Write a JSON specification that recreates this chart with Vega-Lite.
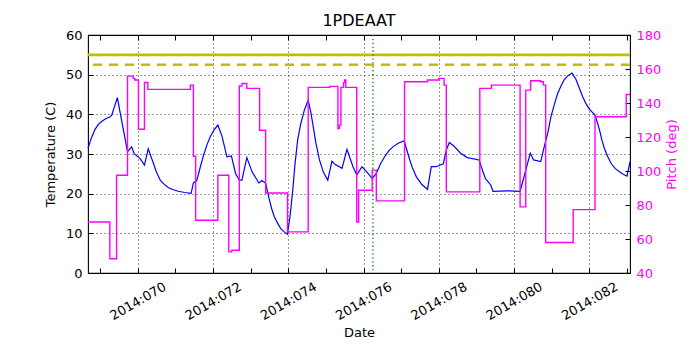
{
  "$schema": "https://vega.github.io/schema/vega-lite/v6.json",
  "width": 542,
  "height": 238,
  "autosize": "none",
  "padding": {"left": 88, "top": 35, "right": 70, "bottom": 77},
  "background": "white",
  "title": {"text": "1PDEAAT", "fontSize": 16, "font": "DejaVu Sans", "fontWeight": "normal", "offset": 0, "color": "black"},
  "config": {
    "font": "DejaVu Sans",
    "view": {"stroke": "black", "strokeWidth": 1.1},
    "axis": {
      "labelFont": "DejaVu Sans", "titleFont": "DejaVu Sans",
      "labelFontSize": 13, "titleFontSize": 13, "titleFontWeight": "normal",
      "labelColor": "black", "titleColor": "black", "labelOverlap": false, "labelFlush": false,
      "domain": false, "tickColor": "black", "tickSize": -5, "tickWidth": 1,
      "gridColor": "black", "gridDash": [1, 3], "gridWidth": 0.8, "gridOpacity": 1
    }
  },
  "datasets": {
    "temp": [
      {"day": 68.68, "temp": 31.4}, {"day": 68.76, "temp": 33.8}, {"day": 68.86, "temp": 36.1}, {"day": 68.95, "temp": 37.4},
      {"day": 69.04, "temp": 38.2}, {"day": 69.15, "temp": 38.9}, {"day": 69.26, "temp": 39.3}, {"day": 69.31, "temp": 39.8},
      {"day": 69.46, "temp": 44.2}, {"day": 69.57, "temp": 38.6}, {"day": 69.73, "temp": 30.6}, {"day": 69.84, "temp": 31.8},
      {"day": 69.91, "temp": 30.0}, {"day": 70.06, "temp": 28.9}, {"day": 70.18, "temp": 27.2}, {"day": 70.28, "temp": 31.3},
      {"day": 70.42, "temp": 27.6}, {"day": 70.5, "temp": 25.4}, {"day": 70.6, "temp": 23.4}, {"day": 70.7, "temp": 22.4},
      {"day": 70.82, "temp": 21.5}, {"day": 70.95, "temp": 21.0}, {"day": 71.08, "temp": 20.6}, {"day": 71.25, "temp": 20.3},
      {"day": 71.42, "temp": 20.1}, {"day": 71.48, "temp": 22.7}, {"day": 71.57, "temp": 23.3}, {"day": 71.66, "temp": 26.6},
      {"day": 71.75, "temp": 29.7}, {"day": 71.84, "temp": 32.3}, {"day": 71.93, "temp": 34.4}, {"day": 72.03, "temp": 36.1},
      {"day": 72.13, "temp": 37.3}, {"day": 72.24, "temp": 34.5}, {"day": 72.37, "temp": 29.3}, {"day": 72.49, "temp": 29.5},
      {"day": 72.6, "temp": 25.1}, {"day": 72.7, "temp": 23.4}, {"day": 72.77, "temp": 23.4}, {"day": 72.9, "temp": 29.1},
      {"day": 73.04, "temp": 25.5}, {"day": 73.22, "temp": 22.7}, {"day": 73.3, "temp": 23.3}, {"day": 73.4, "temp": 22.6},
      {"day": 73.49, "temp": 18.8}, {"day": 73.56, "temp": 16.2}, {"day": 73.63, "temp": 14.2}, {"day": 73.72, "temp": 12.5},
      {"day": 73.8, "temp": 11.2}, {"day": 73.9, "temp": 10.3}, {"day": 73.98, "temp": 9.8}, {"day": 74.05, "temp": 14.5},
      {"day": 74.12, "temp": 20.9}, {"day": 74.18, "temp": 27.5}, {"day": 74.25, "temp": 33.5}, {"day": 74.33, "temp": 37.5},
      {"day": 74.43, "temp": 41.1}, {"day": 74.53, "temp": 43.6}, {"day": 74.6, "temp": 40.5}, {"day": 74.65, "temp": 37.7},
      {"day": 74.73, "temp": 33.0}, {"day": 74.83, "temp": 28.5}, {"day": 74.93, "temp": 25.5}, {"day": 75.05, "temp": 23.4},
      {"day": 75.16, "temp": 28.2}, {"day": 75.24, "temp": 27.4}, {"day": 75.43, "temp": 26.4}, {"day": 75.56, "temp": 31.2},
      {"day": 75.72, "temp": 26.8}, {"day": 75.82, "temp": 24.7}, {"day": 75.96, "temp": 26.8}, {"day": 76.12, "temp": 25.1},
      {"day": 76.23, "temp": 23.8}, {"day": 76.34, "temp": 25.1}, {"day": 76.45, "temp": 27.5}, {"day": 76.56, "temp": 29.3},
      {"day": 76.67, "temp": 30.8}, {"day": 76.78, "temp": 31.8}, {"day": 76.92, "temp": 32.7}, {"day": 77.08, "temp": 33.3},
      {"day": 77.15, "temp": 31.0}, {"day": 77.23, "temp": 28.5}, {"day": 77.3, "temp": 26.5}, {"day": 77.4, "temp": 24.3},
      {"day": 77.55, "temp": 22.3}, {"day": 77.7, "temp": 21.1}, {"day": 77.8, "temp": 26.8}, {"day": 77.93, "temp": 26.8},
      {"day": 78.12, "temp": 27.5}, {"day": 78.2, "temp": 31.0}, {"day": 78.28, "temp": 32.9}, {"day": 78.4, "temp": 32.0},
      {"day": 78.58, "temp": 30.2}, {"day": 78.76, "temp": 29.1}, {"day": 79.07, "temp": 28.5}, {"day": 79.16, "temp": 25.9},
      {"day": 79.24, "temp": 23.8}, {"day": 79.38, "temp": 22.2}, {"day": 79.44, "temp": 20.6}, {"day": 79.82, "temp": 20.7},
      {"day": 80.16, "temp": 20.6}, {"day": 80.31, "temp": 25.9}, {"day": 80.43, "temp": 30.2}, {"day": 80.52, "temp": 28.5},
      {"day": 80.71, "temp": 28.1}, {"day": 80.8, "temp": 31.8}, {"day": 80.9, "temp": 35.5}, {"day": 80.98, "temp": 39.4},
      {"day": 81.07, "temp": 42.5}, {"day": 81.16, "temp": 45.3}, {"day": 81.25, "temp": 47.2}, {"day": 81.33, "temp": 48.7},
      {"day": 81.44, "temp": 49.8}, {"day": 81.54, "temp": 50.4}, {"day": 81.64, "temp": 48.9}, {"day": 81.73, "temp": 46.7},
      {"day": 81.82, "temp": 44.5}, {"day": 81.91, "temp": 42.7}, {"day": 82.0, "temp": 41.3}, {"day": 82.15, "temp": 39.8},
      {"day": 82.21, "temp": 38.0}, {"day": 82.27, "temp": 36.1}, {"day": 82.33, "temp": 33.6}, {"day": 82.4, "temp": 31.4},
      {"day": 82.49, "temp": 29.3}, {"day": 82.58, "temp": 27.6}, {"day": 82.69, "temp": 26.3}, {"day": 82.8, "temp": 25.5},
      {"day": 82.9, "temp": 24.9}, {"day": 83.0, "temp": 24.4}, {"day": 83.08, "temp": 28.1}
    ],
    "pitch": [
      {"day": 68.68, "pitch": 70.0}, {"day": 69.26, "pitch": 48.4}, {"day": 69.44, "pitch": 97.5}, {"day": 69.73, "pitch": 155.8},
      {"day": 69.88, "pitch": 154.5}, {"day": 69.92, "pitch": 153.5}, {"day": 70.02, "pitch": 124.6}, {"day": 70.18, "pitch": 152.1},
      {"day": 70.27, "pitch": 148.0}, {"day": 71.4, "pitch": 150.5}, {"day": 71.48, "pitch": 108.7}, {"day": 71.54, "pitch": 71.0},
      {"day": 72.13, "pitch": 97.5}, {"day": 72.42, "pitch": 52.4}, {"day": 72.5, "pitch": 53.4}, {"day": 72.7, "pitch": 150.0},
      {"day": 72.77, "pitch": 151.5}, {"day": 72.9, "pitch": 148.6}, {"day": 73.24, "pitch": 124.0}, {"day": 73.4, "pitch": 87.1},
      {"day": 73.98, "pitch": 64.2}, {"day": 74.53, "pitch": 149.2}, {"day": 75.1, "pitch": 149.8}, {"day": 75.32, "pitch": 125.0},
      {"day": 75.36, "pitch": 127.0}, {"day": 75.4, "pitch": 149.2}, {"day": 75.47, "pitch": 152.0}, {"day": 75.5, "pitch": 153.5},
      {"day": 75.53, "pitch": 149.2}, {"day": 75.82, "pitch": 70.0}, {"day": 75.87, "pitch": 88.7}, {"day": 76.23, "pitch": 100.5},
      {"day": 76.34, "pitch": 82.4}, {"day": 77.09, "pitch": 152.5}, {"day": 77.7, "pitch": 153.5}, {"day": 78.0, "pitch": 154.5},
      {"day": 78.14, "pitch": 150.5}, {"day": 78.2, "pitch": 87.7}, {"day": 79.09, "pitch": 148.6}, {"day": 79.4, "pitch": 150.5},
      {"day": 80.16, "pitch": 78.9}, {"day": 80.31, "pitch": 147.6}, {"day": 80.44, "pitch": 153.1}, {"day": 80.71, "pitch": 152.5},
      {"day": 80.78, "pitch": 150.5}, {"day": 80.84, "pitch": 57.9}, {"day": 81.57, "pitch": 77.3}, {"day": 82.15, "pitch": 131.9},
      {"day": 82.98, "pitch": 145.0}, {"day": 83.08, "pitch": 145.0}
    ]
  },
  "layer": [
    {
      "layer": [
        {
          "data": {"name": "temp"},
          "mark": {"type": "line", "color": "#0000FF", "strokeWidth": 1.2},
          "encoding": {
            "x": {
              "field": "day", "type": "quantitative", "title": "Date",
              "scale": {"domain": [68.68, 83.08], "nice": false, "zero": false},
              "axis": {
                "title": "Date", "orient": "bottom",
                "values": [69, 70, 71, 72, 73, 74, 75, 76, 77, 78, 79, 80, 81, 82, 83],
                "labelExpr": "datum.value % 2 == 0 ? '2014:0' + datum.value : ''",
                "labelAngle": -30, "labelAlign": "center", "labelBaseline": "middle",
                "labelPadding": 33,
                "grid": true,
                "gridOpacity": {"condition": {"test": "datum.value % 2 == 0", "value": 1}, "value": 0},
                "titlePadding": 4
              }
            },
            "y": {
              "field": "temp", "type": "quantitative", "title": "Temperature (C)",
              "scale": {"domain": [0, 60], "nice": false},
              "axis": {
                "title": "Temperature (C)", "orient": "left",
                "values": [0, 10, 20, 30, 40, 50, 60],
                "labelPadding": 11, "grid": true, "titlePadding": 8
              }
            }
          }
        },
        {
          "data": {"values": [{"temp": 55}]},
          "mark": {"type": "rule", "color": "#BFBF00", "strokeWidth": 2.6},
          "encoding": {"y": {"field": "temp", "type": "quantitative", "title": "Temperature (C)",
            "axis": {"title": "Temperature (C)", "orient": "left", "values": [0, 10, 20, 30, 40, 50, 60], "labelPadding": 11, "grid": true, "titlePadding": 8}}}
        },
        {
          "data": {"values": [{"temp": 52.5}]},
          "mark": {"type": "rule", "color": "#BFBF00", "strokeWidth": 2.6, "strokeDash": [9, 7]},
          "encoding": {"y": {"field": "temp", "type": "quantitative", "title": "Temperature (C)",
            "axis": {"title": "Temperature (C)", "orient": "left", "values": [0, 10, 20, 30, 40, 50, 60], "labelPadding": 11, "grid": true, "titlePadding": 8}}}
        },
        {
          "data": {"values": [{"day": 76.25}]},
          "mark": {"type": "rule", "color": "#008000", "strokeWidth": 1.3, "strokeDash": [1.3, 2.6]},
          "encoding": {"x": {"field": "day", "type": "quantitative", "title": "Date",
            "axis": {
                "title": "Date", "orient": "bottom",
                "values": [69, 70, 71, 72, 73, 74, 75, 76, 77, 78, 79, 80, 81, 82, 83],
                "labelExpr": "datum.value % 2 == 0 ? '2014:0' + datum.value : ''",
                "labelAngle": -30, "labelAlign": "center", "labelBaseline": "middle",
                "labelPadding": 33,
                "grid": true,
                "gridOpacity": {"condition": {"test": "datum.value % 2 == 0", "value": 1}, "value": 0},
                "titlePadding": 4
            }}}
        }
      ]
    },
    {
      "data": {"name": "pitch"},
      "mark": {"type": "line", "color": "#FF00FF", "strokeWidth": 1.4, "interpolate": "step-after"},
      "encoding": {
        "x": {"field": "day", "type": "quantitative", "title": "Date",
          "axis": {
                "title": null, "orient": "top", "labels": false, "grid": false,
                "values": [69, 70, 71, 72, 73, 74, 75, 76, 77, 78, 79, 80, 81, 82, 83]
          }},
        "y": {
          "field": "pitch", "type": "quantitative",
          "scale": {"domain": [40, 180], "nice": false, "zero": false},
          "axis": {
            "title": "Pitch (deg)", "orient": "right",
            "values": [40, 60, 80, 100, 120, 140, 160, 180],
            "labelColor": "#FF00FF", "titleColor": "#FF00FF", "titleAngle": -90,
            "labelPadding": 11, "grid": false, "titlePadding": 18
          }
        }
      }
    }
  ],
  "resolve": {"scale": {"y": "independent"}, "axis": {"x": "independent"}}
}
